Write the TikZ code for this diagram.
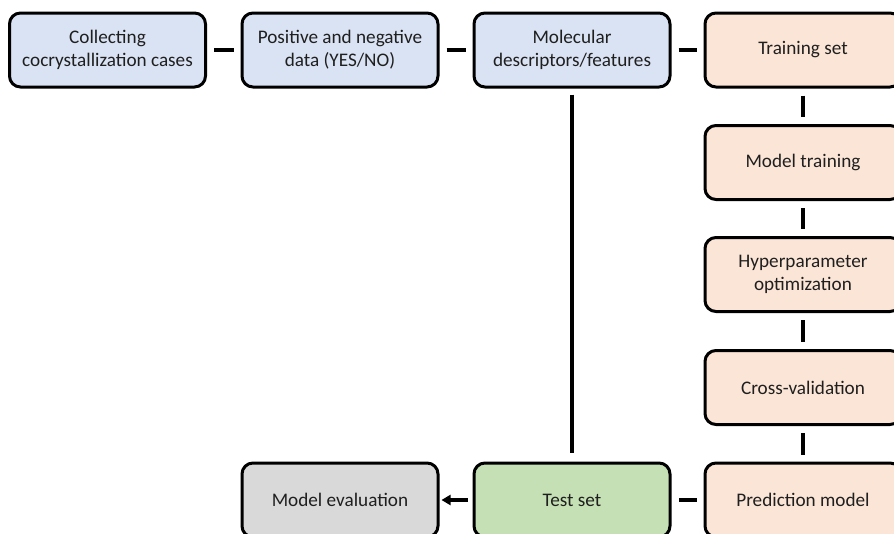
\documentclass[tikz,border=0pt]{standalone}
\usepackage{fontspec}
\setmainfont{Carlito}
\usetikzlibrary{arrows.meta}
\definecolor{cblue}{HTML}{DAE3F3}
\definecolor{corange}{HTML}{FBE5D6}
\definecolor{cgreen}{HTML}{C5E0B4}
\definecolor{cgrey}{HTML}{D9D9D9}
\tikzset{
  box/.style={draw=black, line width=3pt, rounded corners=11pt, minimum width=196pt, minimum height=74pt,
    align=center, inner sep=0pt, font=\fontsize{19.2}{23}\selectfont, text=black!88},
  bluebox/.style={box, fill=cblue},
  orangebox/.style={box, fill=corange},
  greenbox/.style={box, fill=cgreen},
  greybox/.style={box, fill=cgrey},
  conn/.style={draw=black, line width=3.2pt, shorten <=7pt, shorten >=7pt},
  arr/.style={draw=black, line width=3.2pt, shorten <=5pt, shorten >=2pt, -{Triangle[length=9pt,width=10pt]}}
}
\begin{document}
\begin{tikzpicture}[x=1pt,y=-1pt]
\useasboundingbox (0,0) rectangle (894,533);
\clip (0,0) rectangle (894,533);
\node[bluebox] (collect) at (107.5,50) {Collecting\\cocrystallization cases};
\node[bluebox] (posneg) at (340,50) {Positive and negative\\data (YES/NO)};
\node[bluebox] (desc) at (572,50) {Molecular\\descriptors/features};
\node[orangebox] (train) at (803,50) {Training set};
\node[orangebox] (mtrain) at (803,162.5) {Model training};
\node[orangebox] (hyper) at (803,274.5) {Hyperparameter\\optimization};
\node[orangebox] (cv) at (803,387.5) {Cross-validation};
\node[orangebox] (pred) at (803,500) {Prediction model};
\node[greenbox] (test) at (572,500) {Test set};
\node[greybox] (eval) at (340,500) {Model evaluation};
\draw[conn] (collect.east) -- (posneg.west);
\draw[conn] (posneg.east) -- (desc.west);
\draw[conn] (desc.east) -- (train.west);
\draw[conn] (train.south) -- (mtrain.north);
\draw[conn] (mtrain.south) -- (hyper.north);
\draw[conn] (hyper.south) -- (cv.north);
\draw[conn] (cv.south) -- (pred.north);
\draw[conn] (pred.west) -- (test.east);
\draw[conn, shorten <=6pt, shorten >=9pt] (desc.south) -- (test.north);
\draw[arr] (test.west) -- (eval.east);
\end{tikzpicture}
\end{document}
